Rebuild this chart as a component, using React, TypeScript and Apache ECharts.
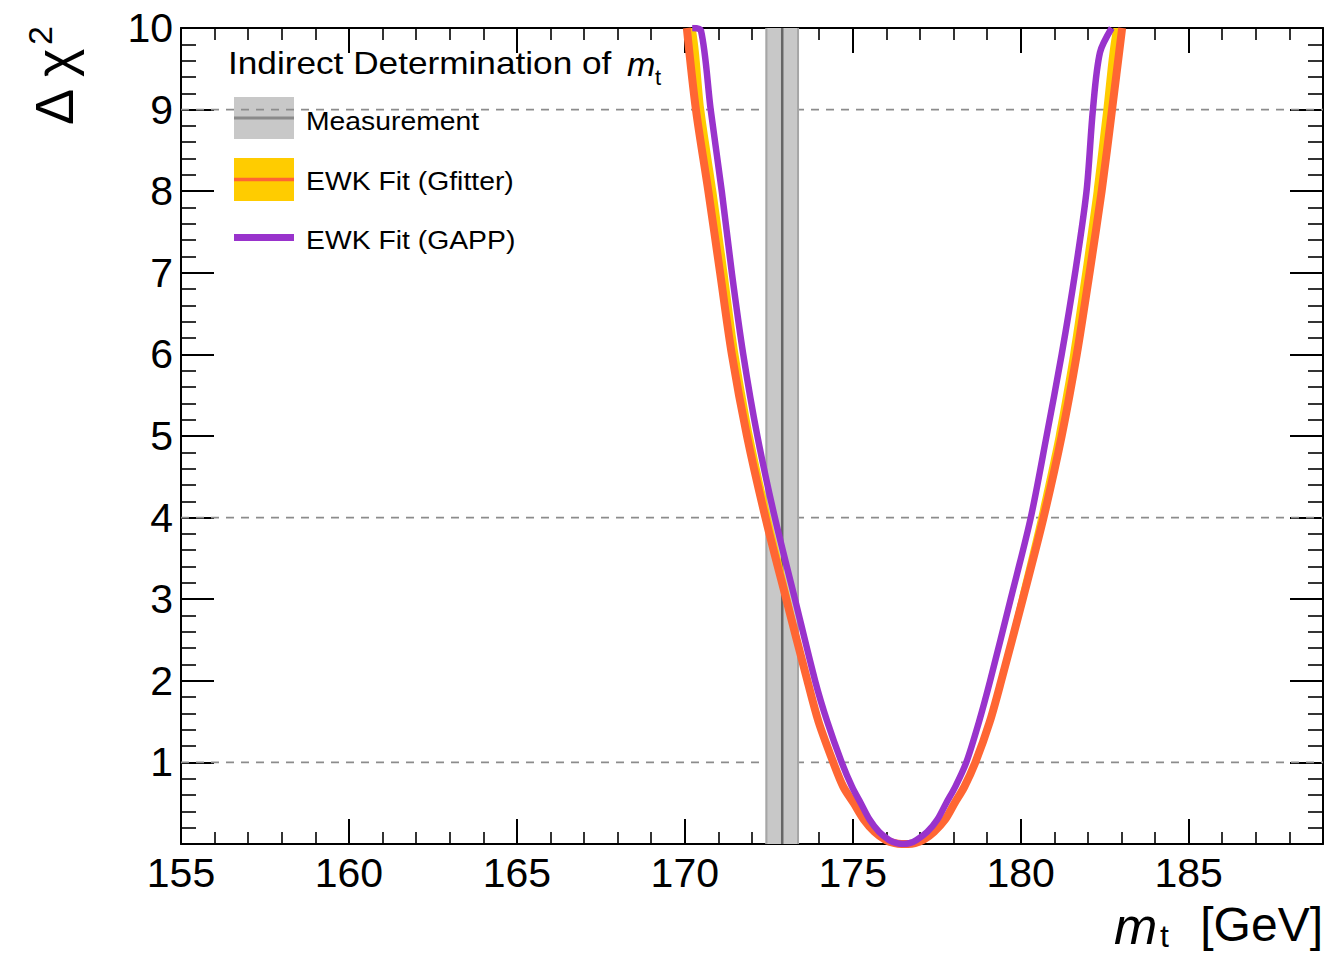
import React, { useEffect, useRef } from "react";
import * as echarts from "echarts";

// ---- axis ranges / tick labels ----
const xRange = [155, 189];
const yRange = [0, 10];
const xTickLabels = [155, 160, 165, 170, 175, 180, 185];
const yTickLabels = [1, 2, 3, 4, 5, 6, 7, 8, 9, 10];
const refLevels = [1, 4, 9];

// ---- measurement (gray band) ----
const measurementMt = 172.9;
const measurementErr = 0.5;

// ---- EWK fit (Gfitter) : central orange curve ----
const gfitterMt = [
  170.06, 170.33, 170.7, 171.05, 171.4, 171.85, 172.4, 173.02, 173.65, 173.98,
  174.42, 174.72, 175.03, 175.33, 175.65, 175.98, 176.25, 176.45, 176.65, 176.85,
  177.1, 177.42, 177.75, 178.03, 178.32, 178.65, 179.08, 179.42, 180.06, 180.68,
  181.22, 181.67, 182.05, 182.41, 182.72, 183.02,
];
const gfitterChi2 = [
  10, 9, 8, 7, 6, 5, 4, 3, 2, 1.5, 1, 0.7, 0.5, 0.3, 0.15, 0.05, 0.01, 0, 0, 0.01,
  0.05, 0.15, 0.3, 0.5, 0.7, 1, 1.5, 2, 3, 4, 5, 6, 7, 8, 9, 10,
];

// ---- EWK fit (Gfitter) : inner edge of yellow band ----
const gfitterBandMt = [
  170.32, 170.58, 170.94, 171.27, 171.6, 172.03, 172.56, 173.15, 173.7, 174.02,
  174.44, 174.72, 175.03, 175.33, 175.65, 175.98, 176.25, 176.45, 176.65, 176.85,
  177.1, 177.42, 177.75, 178.03, 178.32, 178.62, 179.04, 179.36, 179.94, 180.52,
  181.04, 181.47, 181.83, 182.17, 182.46, 182.76,
];
const gfitterBandChi2 = [
  10, 9, 8, 7, 6, 5, 4, 3, 2, 1.5, 1, 0.7, 0.5, 0.3, 0.15, 0.05, 0.01, 0, 0, 0.01,
  0.05, 0.15, 0.3, 0.5, 0.7, 1, 1.5, 2, 3, 4, 5, 6, 7, 8, 9, 10,
];

// ---- EWK fit (GAPP) : purple curve ----
const gappMt = [
  170.22, 170.48, 170.77, 171.1, 171.4, 171.74, 172.16, 172.68, 173.28, 173.88,
  174.24, 174.67, 174.98, 175.24, 175.5, 175.78, 176.08, 176.31, 176.5, 176.69,
  176.9, 177.22, 177.52, 177.78, 178.05, 178.38, 178.76, 179.09, 179.7, 180.3,
  180.77, 181.22, 181.62, 181.96, 182.15, 182.36, 182.71,
];
const gappChi2 = [
  10, 9.97, 9, 8, 7, 6, 5, 4, 3, 2, 1.5, 1, 0.7, 0.5, 0.3, 0.15, 0.05, 0.01, 0,
  0.01, 0.05, 0.15, 0.3, 0.5, 0.7, 1, 1.5, 2, 3, 4, 5, 6, 7, 8, 9, 9.7, 10,
];

const ORANGE = "#ff6633";
const YELLOW = "#ffcc00";
const PURPLE = "#9933cc";
const FONT = "'Liberation Sans', Arial, Helvetica, sans-serif";

export default function App() {
  const ref = useRef<HTMLDivElement>(null);

  useEffect(() => {
    if (!ref.current) return;
    const chart = echarts.init(ref.current, undefined, { renderer: "svg" });

    const tickLine = { color: "#000", width: 2 };
    const baseX = {
      type: "value",
      min: xRange[0],
      max: xRange[1],
      splitLine: { show: false },
      minorSplitLine: { show: false },
    };
    const baseY = {
      type: "value",
      min: yRange[0],
      max: yRange[1],
      interval: 1,
      splitLine: { show: false },
      minorSplitLine: { show: false },
    };

    const bandPoints = (api: any) => {
      const pts: number[][] = [];
      for (let i = 0; i < gfitterMt.length; i++) pts.push(api.coord([gfitterMt[i], gfitterChi2[i]]));
      for (let i = gfitterBandMt.length - 1; i >= 0; i--) pts.push(api.coord([gfitterBandMt[i], gfitterBandChi2[i]]));
      return pts;
    };

    const option: any = {
      animation: false,
      backgroundColor: "#fff",
      grid: { left: 181, right: 4, top: 28, bottom: 113, containLabel: false },
      xAxis: [
        {
          ...baseX,
          interval: 5,
          position: "bottom",
          axisLine: { onZero: false, lineStyle: tickLine },
          axisTick: { inside: true, length: 25, lineStyle: tickLine },
          axisLabel: {
            formatter: (v: number) => (xTickLabels.includes(v) ? String(v) : ""),
            showMaxLabel: false,
            color: "#000",
            fontSize: 41,
            fontFamily: FONT,
            margin: 8,
          },
        },
        {
          ...baseX,
          interval: 1,
          position: "bottom",
          axisLine: { show: false, onZero: false },
          axisTick: { inside: true, length: 12, lineStyle: { color: "#000", width: 1.6 } },
          axisLabel: { show: false },
        },
        {
          ...baseX,
          interval: 5,
          position: "top",
          axisLine: { onZero: false, lineStyle: tickLine },
          axisTick: { inside: true, length: 25, lineStyle: tickLine },
          axisLabel: { show: false },
        },
        {
          ...baseX,
          interval: 1,
          position: "top",
          axisLine: { show: false, onZero: false },
          axisTick: { inside: true, length: 12, lineStyle: { color: "#000", width: 1.6 } },
          axisLabel: { show: false },
        },
      ],
      yAxis: [
        {
          ...baseY,
          position: "left",
          axisLine: { onZero: false, lineStyle: tickLine },
          axisTick: { inside: true, length: 33, lineStyle: tickLine },
          minorTick: { show: true, splitNumber: 5, length: 15, lineStyle: { color: "#000", width: 1.6 } },
          axisLabel: {
            formatter: (v: number) => (yTickLabels.includes(v) ? String(v) : ""),
            color: "#000",
            fontSize: 41,
            fontFamily: FONT,
            margin: 8,
          },
        },
        {
          ...baseY,
          position: "right",
          axisLine: { onZero: false, lineStyle: tickLine },
          axisTick: { inside: true, length: 33, lineStyle: tickLine },
          minorTick: { show: true, splitNumber: 5, length: 15, lineStyle: { color: "#000", width: 1.6 } },
          axisLabel: { show: false },
        },
      ],
      series: [
        {
          type: "custom",
          name: "ref",
          xAxisIndex: 0,
          yAxisIndex: 0,
          clip: true,
          z: 1,
          data: refLevels.map((l) => [xRange[0], l]),
          renderItem: (params: any, api: any) => {
            const lvl = api.value(1);
            const p1 = api.coord([xRange[0], lvl]);
            const p2 = api.coord([xRange[1], lvl]);
            return {
              type: "line",
              shape: { x1: p1[0], y1: p1[1], x2: p2[0], y2: p2[1] },
              style: { stroke: "#8c8c8c", lineWidth: 1.6, lineDash: [8, 7] },
            };
          },
        },
        {
          type: "custom",
          name: "Measurement",
          xAxisIndex: 0,
          yAxisIndex: 0,
          clip: true,
          z: 2,
          data: [[measurementMt, measurementErr]],
          renderItem: (params: any, api: any) => {
            const m = api.value(0);
            const e = api.value(1);
            const a = api.coord([m - e, yRange[1]]);
            const b = api.coord([m + e, yRange[0]]);
            const c = api.coord([m, yRange[0]]);
            return {
              type: "group",
              children: [
                { type: "rect", shape: { x: a[0], y: a[1], width: b[0] - a[0], height: b[1] - a[1] }, style: { fill: "#c8c8c8" } },
                { type: "line", shape: { x1: a[0] + 1, y1: a[1], x2: a[0] + 1, y2: b[1] }, style: { stroke: "#a6a6a6", lineWidth: 2 } },
                { type: "line", shape: { x1: b[0] - 1, y1: a[1], x2: b[0] - 1, y2: b[1] }, style: { stroke: "#a6a6a6", lineWidth: 2 } },
                { type: "line", shape: { x1: c[0], y1: a[1], x2: c[0], y2: b[1] }, style: { stroke: "#666666", lineWidth: 2.5 } },
              ],
            };
          },
        },
        {
          type: "custom",
          name: "band",
          xAxisIndex: 0,
          yAxisIndex: 0,
          clip: true,
          z: 3,
          data: [[gfitterMt[0], gfitterChi2[0]]],
          renderItem: (params: any, api: any) => ({
            type: "polygon",
            shape: { points: bandPoints(api), smooth: 0.25 },
            style: { fill: YELLOW, stroke: "none" },
          }),
        },
        {
          type: "line",
          name: "EWK Fit (Gfitter)",
          xAxisIndex: 0,
          yAxisIndex: 0,
          z: 4,
          symbol: "none",
          smooth: 0.3,
          clip: true,
          data: gfitterMt.map((m, i) => [m, gfitterChi2[i]]),
          lineStyle: { color: ORANGE, width: 8, join: "round" },
        },
        {
          type: "line",
          name: "EWK Fit (GAPP)",
          xAxisIndex: 0,
          yAxisIndex: 0,
          z: 5,
          symbol: "none",
          smooth: 0.3,
          clip: true,
          data: gappMt.map((m, i) => [m, gappChi2[i]]),
          lineStyle: { color: PURPLE, width: 6.5, join: "round" },
        },
      ],
      graphic: [
        // y-axis title  Δ χ²  (rotated)
        {
          type: "group",
          x: 73,
          y: 125,
          rotation: Math.PI / 2,
          children: [
            { type: "text", x: 0, y: -19, style: { text: "Δ χ", fontSize: 54, fontFamily: FONT, fill: "#000", align: "left", verticalAlign: "middle" } },
            { type: "text", x: 80, y: -33, style: { text: "2", fontSize: 34, fontFamily: FONT, fill: "#000", align: "left", verticalAlign: "middle" } },
          ],
        },
        // x-axis title m_t [GeV]
        { type: "text", x: 1323, y: 924, style: { text: "[GeV]", fontSize: 48, fontFamily: FONT, fill: "#000", align: "right", verticalAlign: "middle" } },
        { type: "text", x: 1114, y: 926, style: { text: "m", fontSize: 52, fontStyle: "italic", fontFamily: FONT, fill: "#000", align: "left", verticalAlign: "middle" } },
        { type: "text", x: 1160, y: 936, style: { text: "t", fontSize: 32, fontFamily: FONT, fill: "#000", align: "left", verticalAlign: "middle" } },
        // legend
        { type: "text", x: 228, y: 63, scaleX: 1.1, style: { text: "Indirect Determination of", fontSize: 32, fontFamily: FONT, fill: "#000", align: "left", verticalAlign: "middle" } },
        { type: "text", x: 627, y: 64, style: { text: "m", fontSize: 34, fontStyle: "italic", fontFamily: FONT, fill: "#000", align: "left", verticalAlign: "middle" } },
        { type: "text", x: 655, y: 77, style: { text: "t", fontSize: 22, fontFamily: FONT, fill: "#000", align: "left", verticalAlign: "middle" } },

        { type: "rect", shape: { x: 234, y: 97, width: 60, height: 42 }, style: { fill: "#c8c8c8" } },
        { type: "line", shape: { x1: 234, y1: 118, x2: 294, y2: 118 }, style: { stroke: "#8a8a8a", lineWidth: 3 } },
        { type: "text", x: 306, y: 121, scaleX: 1.09, style: { text: "Measurement", fontSize: 26, fontFamily: FONT, fill: "#000", align: "left", verticalAlign: "middle" } },

        { type: "rect", shape: { x: 234, y: 158, width: 60, height: 43 }, style: { fill: YELLOW } },
        { type: "line", shape: { x1: 234, y1: 179.5, x2: 294, y2: 179.5 }, style: { stroke: ORANGE, lineWidth: 3.5 } },
        { type: "text", x: 306, y: 181, scaleX: 1.09, style: { text: "EWK Fit (Gfitter)", fontSize: 26, fontFamily: FONT, fill: "#000", align: "left", verticalAlign: "middle" } },

        { type: "line", shape: { x1: 234, y1: 237.5, x2: 294, y2: 237.5 }, style: { stroke: PURPLE, lineWidth: 7 } },
        { type: "text", x: 306, y: 240, scaleX: 1.09, style: { text: "EWK Fit (GAPP)", fontSize: 26, fontFamily: FONT, fill: "#000", align: "left", verticalAlign: "middle" } },
      ],
    };

    chart.setOption(option);
    return () => chart.dispose();
  }, []);

  return (
    <div
      ref={ref}
      style={{ position: "absolute", left: 0, top: 0, width: 1327, height: 957, background: "#fff" }}
    />
  );
}
